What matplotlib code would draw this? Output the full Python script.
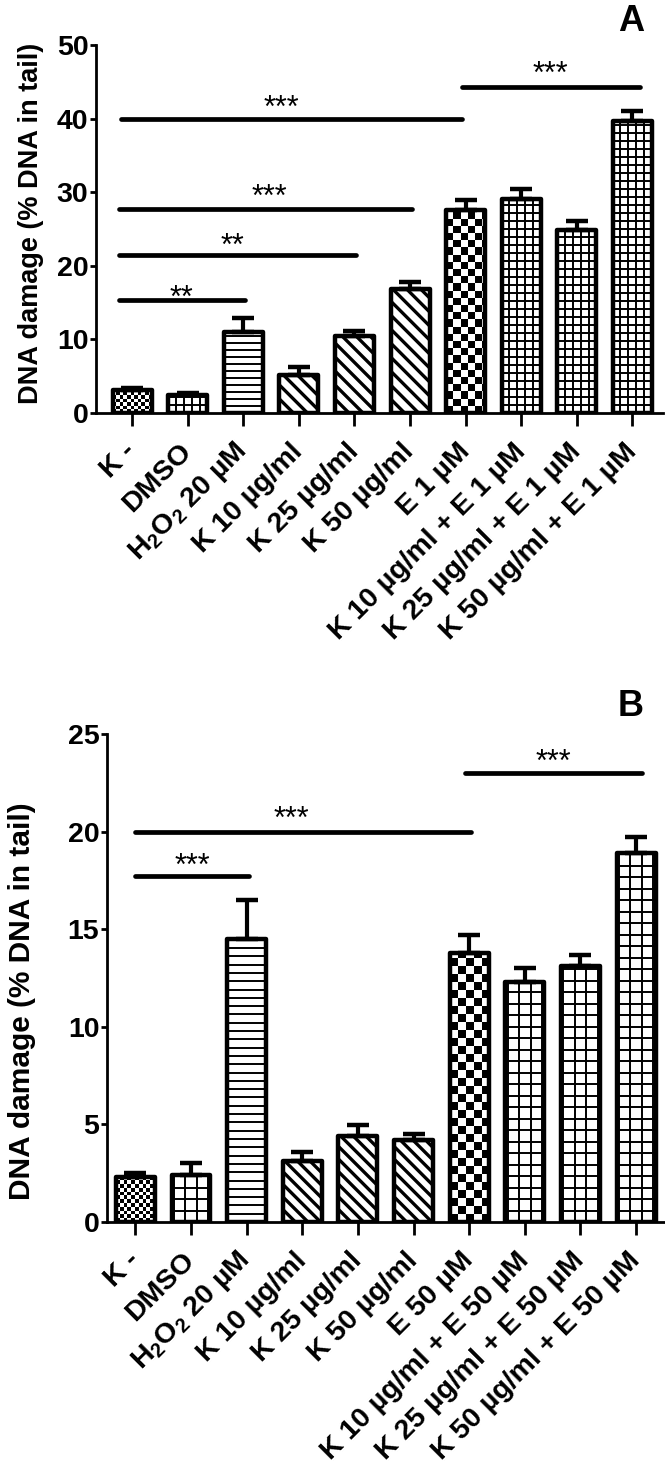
import numpy as np
import matplotlib
matplotlib.use('Agg')
import matplotlib.pyplot as plt
from matplotlib.collections import LineCollection, PolyCollection

plt.rcParams['font.family'] = ['Liberation Sans', 'DejaVu Sans']
plt.rcParams['font.weight'] = 'bold'
plt.rcParams['mathtext.fontset'] = 'custom'
plt.rcParams['mathtext.rm'] = 'Liberation Sans:bold'
plt.rcParams['mathtext.it'] = 'Liberation Sans:bold'
plt.rcParams['mathtext.bf'] = 'Liberation Sans:bold'
plt.rcParams['mathtext.default'] = 'rm'

# ---- data ----
labels_a = ['K -', 'DMSO', 'H$_2$O$_2$ 20 µM', 'K 10 µg/ml', 'K 25 µg/ml', 'K 50 µg/ml',
            'E 1 µM', 'K 10 µg/ml + E 1 µM', 'K 25 µg/ml + E 1 µM', 'K 50 µg/ml + E 1 µM']
labels_b = ['K -', 'DMSO', 'H$_2$O$_2$ 20 µM', 'K 10 µg/ml', 'K 25 µg/ml', 'K 50 µg/ml',
            'E 50 µM', 'K 10 µg/ml + E 50 µM', 'K 25 µg/ml + E 50 µM', 'K 50 µg/ml + E 50 µM']

vals_a = [3.1, 2.4, 11.0, 5.2, 10.4, 16.8, 27.6, 29.1, 24.9, 39.7]
err_a = [0.3, 0.3, 1.9, 1.0, 0.8, 1.0, 1.3, 1.4, 1.2, 1.3]
vals_b = [2.3, 2.4, 14.5, 3.1, 4.4, 4.2, 13.8, 12.3, 13.1, 18.9]
err_b = [0.2, 0.6, 2.0, 0.5, 0.55, 0.3, 0.9, 0.7, 0.6, 0.8]

fills = ['fine_checker', 'grid', 'hlines', 'diag', 'diag', 'diag', 'checker', 'grid', 'grid', 'grid']

# significance brackets: start, end, height, star label, star x, star y
sig_a_start = [-0.23, -0.23, -0.23, -0.2, 5.94]
sig_a_end = [2.03, 4.02, 5.04, 5.94, 9.14]
sig_a_y = [15.4, 21.4, 27.7, 40.0, 44.3]
sig_a_text = ['**', '**', '***', '***', '***']
sig_a_tx = [0.88, 1.80, 2.46, 2.68, 7.52]
sig_a_ty = [16.8, 23.9, 30.6, 42.6, 47.2]

sig_b_start = [0.0, 0.0, 5.93]
sig_b_end = [2.04, 6.04, 9.11]
sig_b_y = [17.7, 20.0, 23.0]
sig_b_text = ['***', '***', '***']
sig_b_tx = [1.03, 2.81, 7.52]
sig_b_ty = [18.7, 21.1, 24.0]

# pattern spacing in pixels for each panel
steps_a = {'fine_checker': 3.6, 'grid': 8.0, 'hlines': 7.0, 'diag': 14.0, 'checker': 7.2}
steps_b = {'fine_checker': 3.8, 'grid': 11.5, 'hlines': 8.3, 'diag': 12.6, 'checker': 8.0}


def draw_fill(ax, rect, kind, step):
    """draw the bar's fill pattern, clipped to the bar"""
    x0, y0 = rect.get_x(), rect.get_y()
    x1, y1 = x0 + rect.get_width(), y0 + rect.get_height()
    (p0x, p0y), (p1x, p1y) = ax.transData.transform([(x0, y0), (x1, y1)])
    inv = ax.transData.inverted()
    if kind in ('checker', 'fine_checker'):
        polys = []
        ncol = int(np.ceil((p1x - p0x) / step))
        nrow = int(np.ceil((p1y - p0y) / step))
        for i in range(ncol):
            for j in range(nrow):
                if (i + j) % 2 == 0:
                    sx, sy = p0x + i * step, p0y + j * step
                    sq = [(sx, sy), (sx + step, sy), (sx + step, sy + step), (sx, sy + step)]
                    polys.append(inv.transform(sq))
        coll = PolyCollection(polys, facecolors='k', edgecolors='none', zorder=2)
    else:
        segs = []
        cx = (p0x + p1x) / 2
        if kind == 'hlines':
            for y in np.arange(p0y + step, p1y, step):
                segs.append([(p0x, y), (p1x, y)])
            lw = 1.4
        elif kind == 'grid':
            for y in np.arange(p0y + step, p1y, step):
                segs.append([(p0x, y), (p1x, y)])
            k = 0
            while cx + step * (k + 0.5) < p1x:
                for xx in (cx + step * (k + 0.5), cx - step * (k + 0.5)):
                    segs.append([(xx, p0y), (xx, p1y)])
                k += 1
            lw = 1.4
        else:  # diagonal, top-left to bottom-right
            for c in np.arange(p0x + p0y, p1x + p1y + step, step):
                segs.append([(c - p1y, p1y), (c - p0y, p0y)])
            lw = 2.4
        segs = [inv.transform(s) for s in segs]
        coll = LineCollection(segs, colors='k', linewidths=lw, zorder=2)
    ax.add_collection(coll, autolim=False)
    coll.set_clip_path(rect)


def draw_panel(ax, labels, vals, errs, ymax, ystep, xlim, steps,
               s_start, s_end, s_y, s_text, s_tx, s_ty, ylab_pos, ylab_size):
    x = np.arange(len(vals))
    ax.set_xlim(*xlim)
    ax.set_ylim(0, ymax)
    ax.errorbar(x, vals, yerr=[np.zeros(len(errs)), errs], fmt='none', ecolor='k',
                elinewidth=3, capsize=8, capthick=3.2, zorder=1)
    bars = ax.bar(x, vals, width=0.7, facecolor='none', edgecolor='k',
                  linewidth=3.2, joinstyle='round', zorder=3)
    for rect, kind in zip(bars, fills):
        draw_fill(ax, rect, kind, steps[kind])

    for xs, xe, yy in zip(s_start, s_end, s_y):
        ax.plot([xs, xe], [yy, yy], color='k', lw=3.4, solid_capstyle='round', zorder=4)
    for t, tx, ty in zip(s_text, s_tx, s_ty):
        ax.annotate(t, (tx, ty), xytext=(0, -0.58 * 22), textcoords='offset points',
                    ha='center', va='baseline', fontsize=22, fontweight='normal')

    for side in ('top', 'right'):
        ax.spines[side].set_visible(False)
    for side in ('left', 'bottom'):
        ax.spines[side].set_linewidth(2)
    ax.set_yticks(np.arange(0, ymax + 0.1, ystep))
    ax.set_xticks(x)
    ax.set_xticklabels(labels, rotation=45, ha='right', va='center', rotation_mode='anchor')
    ax.tick_params(axis='y', length=4.5, width=2, labelsize=20.5, pad=1)
    ax.tick_params(axis='x', length=9, width=2, labelsize=20.5, pad=16)
    ax.text(ylab_pos[0], ylab_pos[1], 'DNA damage (% DNA in tail)', transform=ax.transAxes,
            rotation=90, ha='center', va='center', fontsize=ylab_size, fontweight='bold')


fig = plt.figure(figsize=(6.65, 14.66), dpi=100)
ax_a = fig.add_axes([96 / 665, 1 - 413 / 1466, 567 / 665, 368 / 1466])
ax_b = fig.add_axes([107 / 665, 1 - 1222 / 1466, 558 / 665, 488 / 1466])

draw_panel(ax_a, labels_a, vals_a, err_a, 50, 10, (-0.65, 9.55), steps_a,
           sig_a_start, sig_a_end, sig_a_y, sig_a_text, sig_a_tx, sig_a_ty,
           (-0.114, 0.516), 19.5)
draw_panel(ax_b, labels_b, vals_b, err_b, 25, 5, (-0.51, 9.52), steps_b,
           sig_b_start, sig_b_end, sig_b_y, sig_b_text, sig_b_tx, sig_b_ty,
           (-0.153, 0.453), 21.5)

fig.text(631 / 665, 1 - 31 / 1466, 'A', ha='center', va='baseline', fontsize=26, fontweight='bold')
fig.text(631 / 665, 1 - 716 / 1466, 'B', ha='center', va='baseline', fontsize=26, fontweight='bold')

fig.savefig('out.png', dpi=100, facecolor='white')
